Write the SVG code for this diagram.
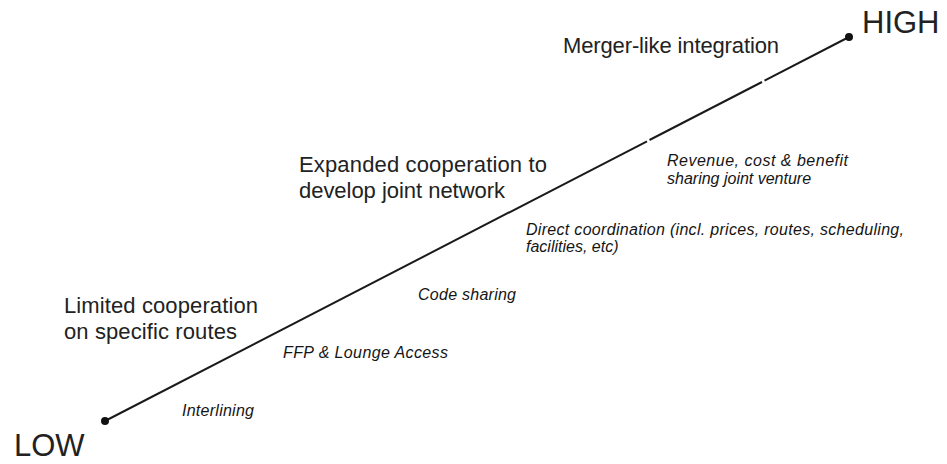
<svg xmlns="http://www.w3.org/2000/svg" width="947" height="464" viewBox="0 0 947 464">
<style>
.axis{stroke:#1a1a1a;stroke-width:2;fill:none}
.dot{fill:#111}
.big{font-family:"Liberation Sans",Arial,sans-serif;font-size:31px;fill:#222}
.lvl{font-family:"Liberation Sans",Arial,sans-serif;font-size:22px;fill:#222}
.act{font-family:"Liberation Sans",Arial,sans-serif;font-size:16px;font-style:italic;fill:#151515}
</style>
<rect width="947" height="464" fill="#fff"/>
<g id="connectors">
<line class="axis" x1="105" y1="421" x2="647" y2="141.3"/>
<line class="axis" x1="649.5" y1="140" x2="762" y2="82"/>
<line class="axis" x1="764.5" y1="80.7" x2="849" y2="37"/>
</g>
<g id="low"><circle class="dot" cx="105" cy="421" r="4"/><text class="big" x="14" y="456">LOW</text></g>
<g id="high"><circle class="dot" cx="849" cy="37" r="4"/><text class="big" x="862" y="33">HIGH</text></g>
<g id="limited"><text class="lvl" x="64" y="313" textLength="194">Limited cooperation</text><text class="lvl" x="64" y="339" textLength="173">on specific routes</text></g>
<g id="expanded"><text class="lvl" x="299" y="172" textLength="248">Expanded cooperation to</text><text class="lvl" x="299" y="198" textLength="206">develop joint network</text></g>
<g id="merger"><text class="lvl" x="563" y="53" textLength="216">Merger-like integration</text></g>
<g id="interlining"><text class="act" x="182" y="416" textLength="72">Interlining</text></g>
<g id="ffp"><text class="act" x="283" y="358" textLength="165">FFP &amp; Lounge Access</text></g>
<g id="codeshare"><text class="act" x="418" y="300" textLength="98">Code sharing</text></g>
<g id="direct"><text class="act" x="526" y="235" textLength="378">Direct coordination (incl. prices, routes, scheduling,</text><text class="act" x="526" y="252">facilities, etc)</text></g>
<g id="revenue"><text class="act" x="667" y="166" textLength="181">Revenue, cost &amp; benefit</text><text class="act" x="667" y="184">sharing joint venture</text></g>
</svg>
